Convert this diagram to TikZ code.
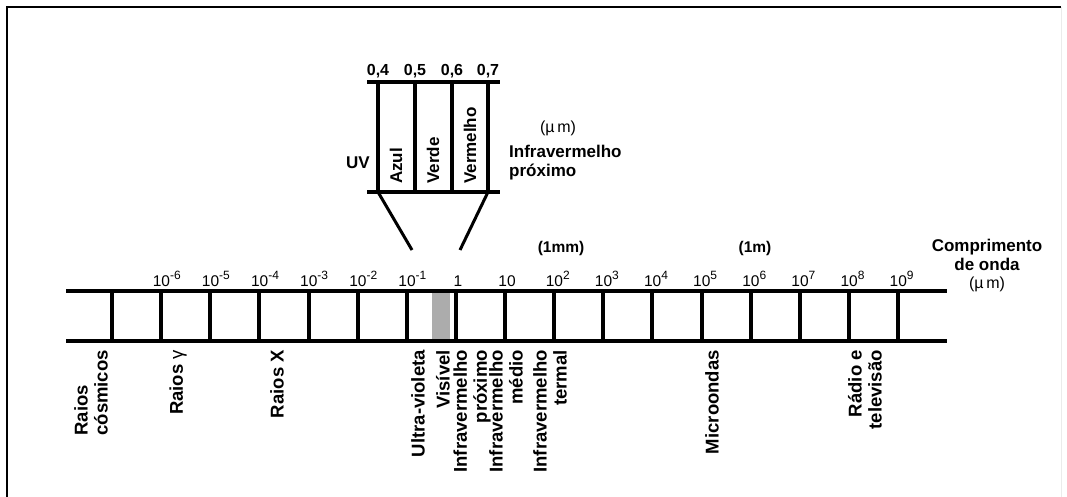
\documentclass[tikz,border=0pt]{standalone}
\usepackage{fontspec}
\setmainfont{Liberation Sans}
\newcommand{\pwr}[1]{10\raisebox{0.42em}{\fontsize{12}{13}\selectfont#1}}
\tikzset{
  rail/.style={line width=4.5pt},
  rung/.style={line width=4pt},
  lbl/.style={font=\bfseries\fontsize{17}{19}\selectfont, inner sep=0pt},
  rotlbl/.style={lbl, font=\bfseries\fontsize{18.5}{20}\selectfont, rotate=90, anchor=east},
  ticklbl/.style={font=\fontsize{15.5}{17}\selectfont, inner sep=0pt, anchor=base west},
}
\begin{document}
\begin{tikzpicture}[x=1pt, y=-1pt]
    \useasboundingbox (0,0) rectangle (1067,497);
    % Frame
    \draw[line width=2.5pt] (7,497) -- (7,7) -- (1061,7);
    \draw[black!8, line width=1pt] (1061,7) -- (1061,497);
    % Ladder
    \coordinate (TL) at (66,291);
    \coordinate (TR) at (947,291);
    \coordinate (BL) at (66,341);
    \coordinate (BR) at (947,341);
    \fill[gray!65] (432,293) rectangle (450,339);
    \draw[rail] (TL) -- (TR);
    \draw[rail] (BL) -- (BR);
    \foreach \i in {0,...,16}
        \draw[rung] ({112+49.125*\i},291) -- ({112+49.125*\i},341);
    % Powers of ten
    \foreach \i/\e in {1/-6,2/-5,3/-4,4/-3,5/-2,6/-1,9/2,10/3,11/4,12/5,13/6,14/7,15/8,16/9}
        \node[ticklbl] (t\i) at ({112+49.125*\i-8.5},286) {\pwr{\e}};
    \node[ticklbl, anchor=base] (t7) at (458,286) {1};
    \node[ticklbl, anchor=base] (t8) at (507,286) {10};
    \node[lbl, font=\bfseries\fontsize{15.5}{17}\selectfont] (mm) at (561,248) {(1mm)};
    \node[lbl, font=\bfseries\fontsize{15.5}{17}\selectfont] (m) at (755,248) {(1m)};
    \node[lbl, align=center] (comp) at (987,265) {Comprimento\\de onda\\[-1pt]\mdseries\fontsize{16}{17}\selectfont(\textmu\,m)};
    % Names below the ladder
    \node[rotlbl, align=left] (cosm) at (91,350) {Raios\\cósmicos};
    \node[rotlbl] (gama) at (178,350) {Raios \mdseries γ};
    \node[rotlbl] (raiox) at (277,350) {Raios X};
    \node[rotlbl] (uv) at (418,350) {Ultra-violeta};
    \node[rotlbl] (vis) at (443,350) {Visível};
    \node[rotlbl, align=right] (ivp) at (472,350) {Infravermelho\\próximo};
    \node[rotlbl, align=right] (ivm) at (506,350) {Infravermelho\\médio};
    \node[rotlbl, align=right] (ivt) at (550,350) {Infravermelho\\termal};
    \node[rotlbl] (micro) at (712,350) {Microondas};
    \node[rotlbl, align=right] (radio) at (865,350) {Rádio e\\televisão};
    % Visible band, enlarged
    \draw[rail, line width=4pt] (367,82) -- (500,82);
    \draw[rail, line width=4pt] (367,192) -- (500,192);
    \foreach \x/\v in {378/4,415/5,452/6,488/7} {
        \draw[rung, line width=3.5pt] (\x,82) -- (\x,192);
        \node[lbl, font=\fontsize{16}{18}\selectfont\bfseries] (v\v) at (\x,71) {0,\v};
    }
    \draw[line width=3pt] (378,192) -- (412,250);
    \draw[line width=3pt] (488,192) -- (460,250);
    \node[lbl, rotate=90, anchor=west] (azul) at (396,184) {Azul};
    \node[lbl, rotate=90, anchor=west] (verde) at (433,184) {Verde};
    \node[lbl, rotate=90, anchor=west] (verm) at (470,184) {Vermelho};
    \node[lbl] (uvb) at (358,163) {UV};
    \node[lbl, font=\fontsize{16}{18}\selectfont] (um) at (558,128) {(\textmu\,m)};
    \node[lbl, align=left, anchor=west] (ivb) at (509,163) {Infravermelho\\próximo};
\end{tikzpicture}
\end{document}
